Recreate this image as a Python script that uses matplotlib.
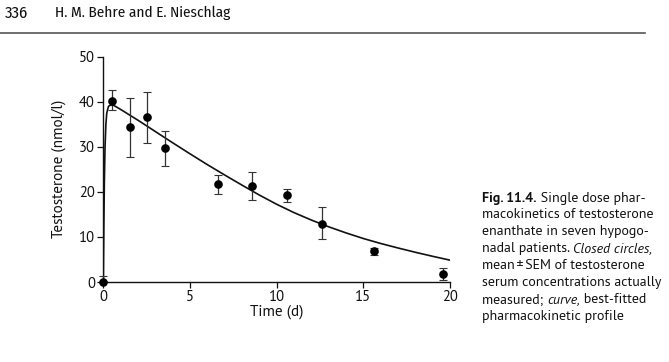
import matplotlib
matplotlib.use("Agg")
import matplotlib.pyplot as plt
from matplotlib.lines import Line2D

FAM = ['PT Sans', 'Lato', 'DejaVu Sans']
HEAD = ['Fira Sans Condensed', 'PT Sans Narrow', 'Lato', 'DejaVu Sans']
plt.rcParams['font.family'] = FAM

# measured data (mean +/- SEM)
time_d = [0.0, 0.5, 1.55, 2.5, 3.55, 6.6, 8.6, 10.6, 12.6, 15.6, 19.6]
testo = [0.0, 40.2, 34.4, 36.7, 29.7, 21.7, 21.4, 19.2, 12.9, 6.8, 1.7]
err_low = [0.0, 2.1, 6.7, 5.8, 3.9, 2.1, 3.1, 1.4, 3.4, 0.8, 1.3]
err_high = [1.4, 2.5, 6.5, 5.4, 3.8, 2.0, 3.0, 1.4, 3.8, 0.7, 1.3]

# best-fitted pharmacokinetic curve
curve_t = [0, 0.03, 0.06, 0.1, 0.15, 0.2, 0.3, 0.45, 0.6, 1, 2, 3, 4, 5, 6, 7, 8, 9,
           10, 11, 12, 13, 14, 15, 16, 17, 18, 19, 20]
curve_y = [0, 12, 22, 30, 35, 37.5, 39.0, 39.3, 39.2, 38.3, 35.9, 33.4, 30.9, 28.45,
           26.05, 23.75, 21.5, 19.3, 17.25, 15.4, 13.75, 12.25, 10.9, 9.65, 8.55, 7.55,
           6.6, 5.7, 4.85]

xticks = [0, 5, 10, 15, 20]
yticks = [0, 10, 20, 30, 40, 50]

fig = plt.figure(figsize=(6.69, 3.62), dpi=100)
ax = fig.add_axes([103.3 / 669, 1 - 282 / 362, (450 - 103.3) / 669, (282 - 56.7) / 362])

ax.plot(curve_t, curve_y, color='#111111', lw=1.2, zorder=2)
ax.errorbar(time_d, testo, yerr=[err_low, err_high], fmt='o', color='black',
            ecolor='#333333', elinewidth=0.9, capsize=2.8, capthick=0.8,
            markersize=5.2, zorder=3, clip_on=False)

ax.set_xlim(0, 20)
ax.set_ylim(0, 50)
ax.set_xticks(xticks)
ax.set_yticks(yticks)
for s in ['top', 'right']:
    ax.spines[s].set_visible(False)
for s in ['left', 'bottom']:
    ax.spines[s].set_linewidth(1.0)
    ax.spines[s].set_color('#111111')
ax.tick_params(direction='out', length=4, width=0.9, labelsize=10.5, pad=2,
               colors='#111111')
ax.set_xlabel('Time (d)', fontsize=11, labelpad=0, color='#111111')
ax.set_ylabel('Testosterone (nmol/l)', fontsize=11, labelpad=9, color='#111111')

# header
fig.text(5 / 669, 1 - 13 / 362, '336', fontsize=12, va='center', ha='left',
         color='#111111', family=HEAD)
fig.text(55 / 669, 1 - 13 / 362, 'H. M. Behre and E. Nieschlag', fontsize=11,
         va='center', ha='left', color='#111111', family=HEAD)
fig.add_artist(Line2D([0, 645 / 669], [1 - 33 / 362, 1 - 33 / 362],
                      transform=fig.transFigure, color='#555555', lw=1.2))

# caption
x0 = 482 / 669
lines = [
    [('Fig. 11.4.', 'bold', 'normal'), (' Single dose phar-', 'normal', 'normal')],
    [('macokinetics of testosterone', 'normal', 'normal')],
    [('enanthate in seven hypogo-', 'normal', 'normal')],
    [('nadal patients. ', 'normal', 'normal'), ('Closed circles,', 'normal', 'italic')],
    [('mean\u2009\u00b1\u2009SEM of testosterone', 'normal', 'normal')],
    [('serum concentrations actually', 'normal', 'normal')],
    [('measured; ', 'normal', 'normal'), ('curve,', 'normal', 'italic'),
     (' best-fitted', 'normal', 'normal')],
    [('pharmacokinetic profile', 'normal', 'normal')],
]
fig.canvas.draw()
renderer = fig.canvas.get_renderer()
for i, parts in enumerate(lines):
    y = 1 - (198 + i * 16.9) / 362
    x = x0
    for txt, weight, style in parts:
        t = fig.text(x, y, txt, fontsize=10, fontweight=weight, fontstyle=style,
                     va='center', ha='left', color='#111111')
        bb = t.get_window_extent(renderer=renderer)
        x += bb.width / fig.bbox.width

fig.savefig('out.png', dpi=100)
